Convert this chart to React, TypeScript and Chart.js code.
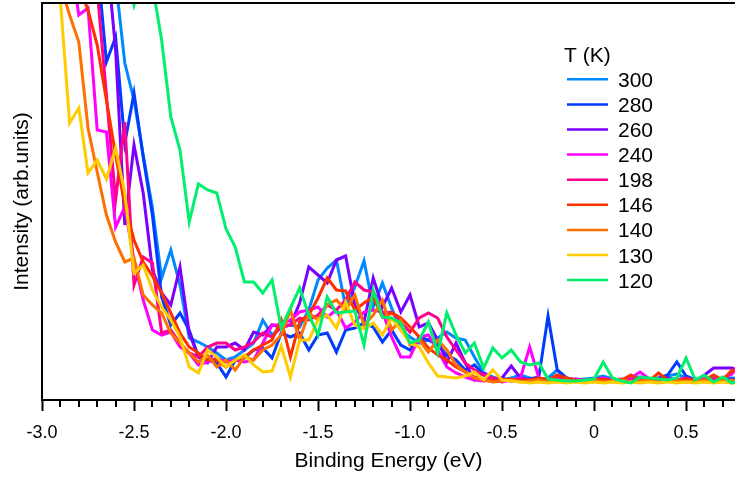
import React, { useEffect, useRef } from 'react';
import { Chart, registerables } from 'chart.js';

Chart.register(...registerables);

const FONT = '"Liberation Sans", Arial, Helvetica, sans-serif';

// Binding energy grid (eV)
const ENERGY = [
  -3.0, -2.95, -2.9, -2.85, -2.8, -2.75, -2.7, -2.65, -2.6, -2.55,
  -2.5, -2.45, -2.4, -2.35, -2.3, -2.25, -2.2, -2.15, -2.1, -2.05,
  -2.0, -1.95, -1.9, -1.85, -1.8, -1.75, -1.7, -1.65, -1.6, -1.55,
  -1.5, -1.45, -1.4, -1.35, -1.3, -1.25, -1.2, -1.15, -1.1, -1.05,
  -1.0, -0.95, -0.9, -0.85, -0.8, -0.75, -0.7, -0.65, -0.6, -0.55,
  -0.5, -0.45, -0.4, -0.35, -0.3, -0.25, -0.2, -0.15, -0.1, -0.05,
  0.0, 0.05, 0.1, 0.15, 0.2, 0.25, 0.3, 0.35, 0.4, 0.45,
  0.5, 0.55, 0.6, 0.65, 0.7, 0.75, 0.8,
];

// Intensities (arb. units) for each temperature
const I300 = [
  698, 668, 638, 608, 578, 538, 498, 458, 418, 335,
  298, 243, 190, 120, 148, 113, 60, 56, 51, 45,
  38, 41, 48, 55, 78, 63, 71, 73, 71, 88,
  118, 130, 138, 91, 111, 137, 91, 115, 90, 68,
  61, 55, 58, 60, 66, 60, 58, 41, 25, 21,
  18, 20, 23, 20, 18, 20, 28, 20, 18, 19,
  20, 22, 19, 18, 20, 21, 19, 18, 22, 24,
  20, 19, 18, 20, 19, 20, 19,
];
const I280 = [
  698, 668, 638, 598, 558, 508, 438, 336, 361, 255,
  305, 241, 183, 101, 73, 85, 68, 41, 38, 35,
  21, 38, 40, 48, 50, 40, 65, 61, 65, 48,
  63, 65, 46, 68, 70, 75, 71, 56, 68, 53,
  48, 61, 58, 53, 43, 38, 28, 33, 23, 18,
  20, 17, 18, 19, 21, 82, 28, 20, 18, 17,
  18, 19, 17, 18, 19, 18, 17, 20, 23, 36,
  22, 18, 19, 17, 18, 19, 18,
];
const I260 = [
  698, 668, 638, 608, 578, 538, 498, 448, 348, 173,
  253, 205, 128, 105, 93, 131, 65, 41, 35, 51,
  51, 55, 48, 66, 63, 73, 71, 73, 95, 131,
  123, 115, 138, 142, 93, 76, 120, 91, 110, 86,
  103, 71, 75, 58, 36, 55, 35, 18, 25, 18,
  20, 32, 20, 18, 17, 19, 18, 17, 19, 18,
  17, 20, 18, 17, 18, 19, 17, 18, 20, 18,
  19, 17, 23, 30, 30, 30, 26,
];
const I240 = [
  598, 558, 508, 448, 383, 390, 268, 266, 171, 191,
  138, 98, 68, 63, 66, 51, 45, 33, 36, 40,
  36, 38, 36, 38, 55, 73, 73, 78, 86, 88,
  91, 81, 88, 70, 76, 86, 88, 86, 61, 41,
  41, 61, 63, 48, 31, 25, 21, 18, 17, 19,
  16, 18, 20, 51, 20, 18, 17, 18, 19, 17,
  18, 20, 18, 17, 20, 26, 19, 18, 17, 19,
  18, 17, 19, 18, 20, 24, 38,
];
const I198 = [
  658, 628, 598, 558, 508, 458, 408, 303, 198, 276,
  113, 141, 135, 65, 68, 55, 45, 41, 51, 55,
  55, 48, 51, 56, 65, 61, 71, 73, 80, 78,
  83, 93, 88, 98, 116, 108, 106, 85, 86, 76,
  66, 80, 85, 80, 61, 48, 35, 28, 23, 20,
  18, 17, 19, 18, 17, 18, 20, 18, 17, 18,
  19, 17, 18, 19, 18, 17, 18, 19, 17, 18,
  20, 18, 17, 19, 18, 17, 18,
];
const I146 = [
  548, 508, 478, 443, 413, 388, 353, 298, 243, 193,
  158, 136, 122, 105, 85, 65, 51, 45, 38, 38,
  31, 38, 41, 48, 53, 58, 78, 41, 76, 83,
  100, 120, 108, 107, 88, 95, 101, 81, 85, 80,
  71, 61, 50, 43, 38, 31, 26, 21, 18, 17,
  18, 19, 17, 18, 20, 18, 23, 20, 18, 17,
  18, 19, 17, 18, 23, 18, 17, 25, 18, 17,
  19, 17, 18, 23, 18, 28, 23,
];
const I140 = [
  488, 458, 413, 383, 356, 270, 226, 183, 156, 136,
  140, 103, 93, 85, 65, 55, 45, 36, 43, 31,
  38, 28, 41, 38, 48, 53, 63, 88, 58, 85,
  78, 93, 98, 88, 103, 73, 83, 98, 68, 78,
  53, 58, 46, 58, 48, 33, 26, 20, 18, 16,
  17, 18, 16, 17, 18, 16, 17, 18, 16, 17,
  18, 16, 17, 18, 16, 17, 18, 16, 17, 18,
  16, 17, 18, 16, 17, 18, 16,
];
const I130 = [
  478, 438, 398, 275, 290, 225, 238, 219, 250, 205,
  125, 133, 108, 91, 78, 61, 31, 25, 48, 41,
  31, 38, 43, 33, 26, 27, 52, 21, 58, 58,
  78, 83, 70, 96, 73, 69, 75, 63, 80, 68,
  55, 51, 35, 22, 21, 20, 22, 26, 18, 28,
  18, 17, 16, 15, 16, 15, 16, 15, 16, 15,
  16, 15, 16, 15, 16, 15, 16, 15, 16, 15,
  16, 15, 16, 15, 16, 15, 16,
];
const I120 = [
  798, 768, 738, 698, 658, 618, 578, 538, 488, 438,
  393, 428, 413, 358, 281, 248, 176, 214, 208, 205,
  169, 151, 116, 116, 105, 118, 70, 90, 110, 83,
  63, 101, 85, 86, 87, 53, 108, 81, 80, 75,
  55, 58, 76, 45, 85, 63, 45, 55, 30, 50,
  40, 48, 36, 33, 35, 19, 18, 17, 17, 18,
  19, 36, 20, 17, 15, 21, 20, 19, 18, 20,
  40, 18, 23, 16, 21, 15, 18,
];

const TEMPS = ['300', '280', '260', '240', '198', '146', '140', '130', '120'];
const SERIES = [I300, I280, I260, I240, I198, I146, I140, I130, I120];
const COLORS = [
  'rgb(0,136,255)',
  'rgb(0,60,255)',
  'rgb(122,0,255)',
  'rgb(255,0,255)',
  'rgb(255,0,144)',
  'rgb(255,48,0)',
  'rgb(255,112,0)',
  'rgb(255,204,0)',
  'rgb(0,240,110)',
];

const X_MIN = -3.0;
const X_MAX = 0.766;
const Y_MIN = -2;
const Y_MAX = 395;

const isMajor = (v: number) => Math.abs(v * 2 - Math.round(v * 2)) < 1e-6;

const framePlugin = {
  id: 'frameAndLegend',
  afterDraw(chart: any) {
    const { ctx, chartArea } = chart;
    const xs = chart.scales.x;
    ctx.save();
    // top frame line
    ctx.strokeStyle = '#000';
    ctx.lineWidth = 2;
    ctx.beginPath();
    ctx.moveTo(chartArea.left - 1, chartArea.top);
    ctx.lineTo(chartArea.right, chartArea.top);
    ctx.stroke();
    // minor ticks
    ctx.lineWidth = 2;
    for (let i = 0; i <= 40; i++) {
      const v = Math.round((X_MIN + i * 0.1) * 10) / 10;
      if (v > X_MAX + 1e-9 || isMajor(v)) continue;
      const px = Math.round(xs.getPixelForValue(v));
      ctx.beginPath();
      ctx.moveTo(px, chartArea.bottom);
      ctx.lineTo(px, chartArea.bottom + 7);
      ctx.stroke();
    }
    // legend
    ctx.fillStyle = '#000';
    ctx.font = `21px ${FONT}`;
    ctx.textBaseline = 'alphabetic';
    ctx.textAlign = 'left';
    ctx.fillText('T (K)', 564, 62);
    chart.data.datasets.forEach((ds: any, i: number) => {
      const y = 79.3 + i * 25.1;
      ctx.strokeStyle = ds.borderColor;
      ctx.lineWidth = 2.5;
      ctx.beginPath();
      ctx.moveTo(567, y);
      ctx.lineTo(608, y);
      ctx.stroke();
      ctx.fillStyle = '#000';
      ctx.fillText(ds.label, 618, y + 7.5);
    });
    ctx.restore();
  },
};

export default function App() {
  const ref = useRef<HTMLCanvasElement | null>(null);

  useEffect(() => {
    document.body.style.margin = '0';
    const canvas = ref.current;
    if (!canvas) return;
    const datasets = TEMPS.map((t, i) => ({
      label: t,
      data: ENERGY.map((x, j) => ({ x, y: SERIES[i][j] })),
      borderColor: COLORS[i],
      backgroundColor: COLORS[i],
      borderWidth: 3,
      pointRadius: 0,
      tension: 0,
      fill: false,
      clip: 0,
      order: TEMPS.length - 1 - i,
    }));
    const chart = new Chart(canvas, {
      type: 'line',
      data: { datasets },
      plugins: [framePlugin],
      options: {
        animation: false,
        responsive: false,
        maintainAspectRatio: false,
        layout: { padding: { top: 3, right: 0, bottom: 0, left: 0 } },
        plugins: { legend: { display: false }, tooltip: { enabled: false } },
        scales: {
          x: {
            type: 'linear',
            min: X_MIN,
            max: X_MAX,
            afterFit: (s: any) => {
              s.height = 82;
            },
            border: { display: true, color: '#000', width: 2 },
            grid: {
              display: true,
              drawOnChartArea: false,
              drawTicks: true,
              tickLength: 11,
              tickWidth: 2,
              tickColor: (c: any) => (c.tick && isMajor(c.tick.value) ? '#000' : 'rgba(0,0,0,0)'),
            },
            ticks: {
              stepSize: 0.1,
              autoSkip: false,
              maxTicksLimit: 100,
              includeBounds: false,
              maxRotation: 0,
              minRotation: 0,
              color: '#000',
              padding: 11,
              font: { family: FONT, size: 18 },
              callback: (v: any) => {
                const n = Number(v);
                if (!isMajor(n)) return '';
                if (Math.abs(n) < 1e-9) return '0';
                return n.toFixed(1);
              },
            },
            title: {
              display: true,
              text: 'Binding Energy (eV)',
              color: '#000',
              font: { family: FONT, size: 21 },
              padding: { top: 0, bottom: 8 },
            },
          },
          y: {
            min: Y_MIN,
            max: Y_MAX,
            afterFit: (s: any) => {
              s.width = 42;
            },
            border: { display: true, color: '#000', width: 2 },
            grid: { display: false },
            ticks: { display: false },
            title: {
              display: true,
              text: 'Intensity (arb.units)',
              color: '#000',
              font: { family: FONT, size: 21 },
              padding: { top: 10, bottom: 0 },
            },
          },
        },
      },
    } as any);
    return () => chart.destroy();
  }, []);

  return (
    <canvas
      ref={ref}
      width={735}
      height={482}
      style={{ display: 'block', width: 735, height: 482 }}
    />
  );
}
